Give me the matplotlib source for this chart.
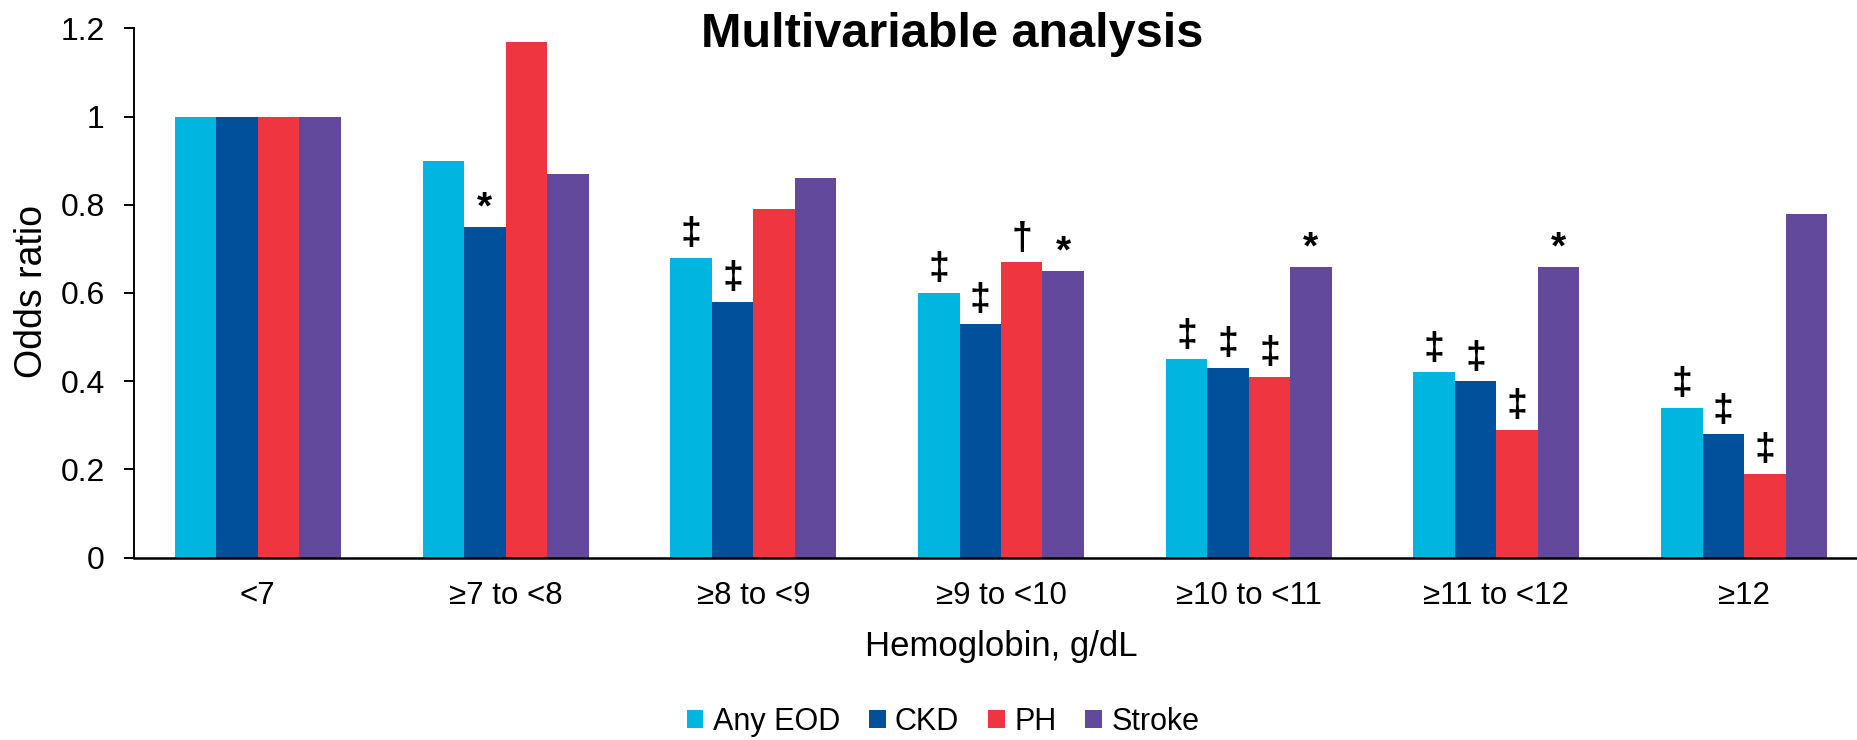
import matplotlib
matplotlib.use("Agg")
import matplotlib.pyplot as plt
import numpy as np

plt.rcParams['font.family'] = ['Liberation Sans', 'DejaVu Sans']

categories = ["<7", "≥7 to <8", "≥8 to <9", "≥9 to <10", "≥10 to <11", "≥11 to <12", "≥12"]
series_names = ["Any EOD", "CKD", "PH", "Stroke"]
any_eod = [1.00, 0.90, 0.68, 0.60, 0.45, 0.42, 0.34]
ckd = [1.00, 0.75, 0.58, 0.53, 0.43, 0.40, 0.28]
ph = [1.00, 1.17, 0.79, 0.67, 0.41, 0.29, 0.19]
stroke = [1.00, 0.87, 0.86, 0.65, 0.66, 0.66, 0.78]
# significance markers per series, per category
any_eod_sig = ["", "", "‡", "‡", "‡", "‡", "‡"]
ckd_sig = ["", "*", "‡", "‡", "‡", "‡", "‡"]
ph_sig = ["", "", "", "†", "‡", "‡", "‡"]
stroke_sig = ["", "", "", "*", "*", "*", ""]
yticks = [0, 0.2, 0.4, 0.6, 0.8, 1.0, 1.2]
ytick_labels = ["0", "0.2", "0.4", "0.6", "0.8", "1", "1.2"]

colors = ["#00B5E0", "#00509B", "#EF3640", "#62499B"]
values = [any_eod, ckd, ph, stroke]
sigs = [any_eod_sig, ckd_sig, ph_sig, stroke_sig]

W, H = 1857, 740
fig = plt.figure(figsize=(W / 100, H / 100), dpi=100)
ax = fig.add_axes([134 / W, 1 - 557.7 / H, (1868 - 134) / W, (557.7 - 28.3) / H])

x = np.arange(len(categories))
bw = 0.1675
handles = []
for i, (vals, col, sg) in enumerate(zip(values, colors, sigs)):
    xs = x + (i - 1.5) * bw
    b = ax.bar(xs, vals, width=bw, color=col, edgecolor="none", label=series_names[i])
    handles.append(b)
    for xi, v, s in zip(xs, vals, sg):
        if not s:
            continue
        if s == "*":
            ax.annotate(s, (xi, v), xytext=(0, 13), textcoords="offset points",
                        ha="center", va="center", fontsize=28, fontweight="bold")
        else:
            ax.annotate(s, (xi, v), xytext=(0, 17), textcoords="offset points",
                        ha="center", va="center", fontsize=27, fontweight="bold")

ax.set_xlim(-0.5, len(categories) - 0.5)
ax.set_ylim(0, 1.2)
ax.set_yticks(yticks)
ax.set_yticklabels(ytick_labels)
ax.set_xticks(x)
ax.set_xticklabels(categories)
ax.tick_params(axis="x", length=0, pad=17, labelsize=22.5)
ax.tick_params(axis="y", direction="out", length=7, width=1.4, pad=14, labelsize=23)
for sp in ["top", "right"]:
    ax.spines[sp].set_visible(False)
ax.spines["left"].set_linewidth(1.4)
ax.spines["bottom"].set_linewidth(1.8)

fig.text(952 / W, 1 - 47 / H, "Multivariable analysis", ha="center", va="baseline",
         fontsize=35, fontweight="bold")
fig.text(1001 / W, 1 - 656 / H, "Hemoglobin, g/dL", ha="center", va="baseline", fontsize=25)
fig.text(32 / W, 1 - 292 / H, "Odds ratio", ha="center", va="center", rotation=90, fontsize=27)

fig.legend(handles=handles, labels=series_names, loc="center", ncol=4,
           bbox_to_anchor=(943 / W, 1 - 722 / H), frameon=False, fontsize=22,
           handlelength=0.55, handleheight=0.55, handletextpad=0.3, columnspacing=0.95,
           borderpad=0, borderaxespad=0)

fig.savefig("out.png", dpi=100)
